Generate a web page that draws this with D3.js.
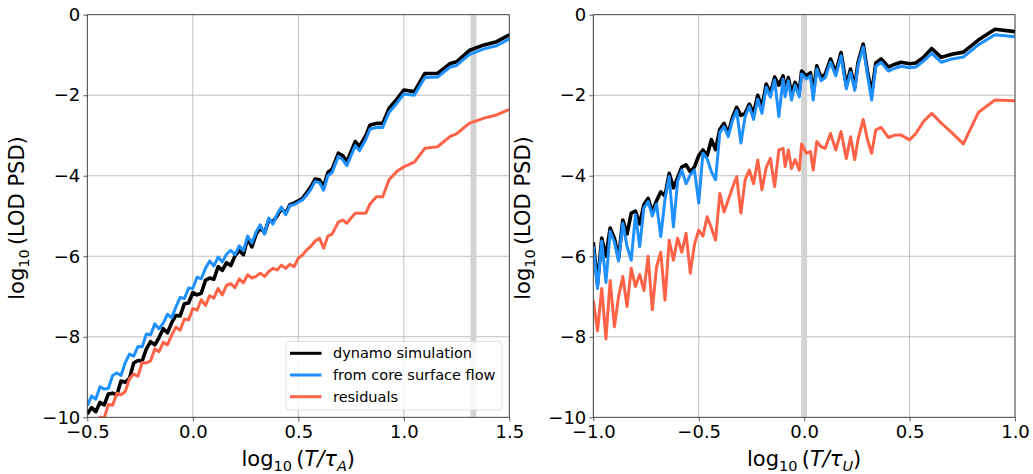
<!DOCTYPE html>
<html>
<head>
<meta charset="utf-8">
<script src="https://cdn.jsdelivr.net/npm/d3@7"></script>
<style>
  body { margin: 0; background: #fff; }
  svg { font-family: "DejaVu Sans", sans-serif; }
</style>
</head>
<body>
<div id="chart"></div>
<script>
// ---- data ----
var yTicks = [0, -2, -4, -6, -8, -10];
var leftTicks = [-0.5, 0.0, 0.5, 1.0, 1.5];
var rightTicks = [-1.0, -0.5, 0.0, 0.5, 1.0];
var leftBand = 1.33, rightBand = 0.0;
var seriesNames = ["dynamo simulation", "from core surface flow", "residuals"];
var seriesColors = ["#000000", "#1e90ff", "#ff6347"];

var leftX = [-0.50,-0.48,-0.46,-0.44,-0.42,-0.40,-0.38,-0.36,-0.34,-0.32,-0.30,-0.28,-0.26,-0.24,-0.22,-0.20,
  -0.18,-0.16,-0.14,-0.12,-0.10,-0.08,-0.06,-0.04,-0.02,0.00,0.02,0.04,0.06,0.08,0.10,0.12,0.14,0.16,0.18,0.20,
  0.22,0.24,0.26,0.28,
  0.30,0.32,0.34,0.36,0.38,0.40,0.42,0.44,0.46,0.48,0.50,0.52,0.54,0.56,0.58,0.60,0.62,0.64,0.66,0.69,0.71,
  0.73,0.75,0.77,0.79,0.82,0.84,0.87,0.90,0.93,0.97,1.00,1.05,1.10,1.16,1.22,1.25,1.31,1.38,1.44,1.50];
var leftDynamo = [-9.92,-9.76,-9.86,-9.63,-9.69,-9.42,-9.4,-9.44,-9.1,-9.13,-9.03,-8.65,-8.59,-8.6,-8.3,-8.12,
  -8.2,-8.02,-7.8,-7.9,-7.65,-7.47,-7.48,-7.18,-7.16,-6.9,-6.96,-6.92,-6.6,-6.54,-6.57,-6.26,-6.35,-6.16,-6.23,-5.99,
  -5.86,-5.96,-5.55,-5.77,
  -5.45,-5.3,-5.42,-5.1,-5.14,-5.0,-4.81,-4.93,-4.72,-4.68,-4.62,-4.56,-4.42,-4.27,-4.08,-4.1,-4.27,-3.92,-3.84,-3.44,-3.5,
  -3.65,-3.4,-3.15,-3.28,-3.0,-2.74,-2.7,-2.7,-2.33,-2.08,-1.87,-1.91,-1.46,-1.46,-1.21,-1.17,-0.89,-0.75,-0.67,-0.5];
var leftFlow = [-9.72,-9.47,-9.55,-9.24,-9.3,-9.28,-8.96,-8.9,-8.96,-8.64,-8.43,-8.48,-8.24,-8.25,-7.93,-7.95,
  -7.68,-7.8,-7.66,-7.44,-7.53,-7.26,-7.02,-7.05,-6.79,-6.8,-6.52,-6.56,-6.3,-6.12,-6.24,-6.02,-6.14,-5.95,-5.85,-5.96,
  -5.74,-5.86,-5.5,-5.67,
  -5.4,-5.22,-5.45,-5.05,-5.2,-4.95,-4.78,-4.97,-4.74,-4.72,-4.66,-4.6,-4.48,-4.33,-4.14,-4.17,-4.36,-4.0,-3.92,-3.52,-3.6,
  -3.75,-3.5,-3.25,-3.38,-3.1,-2.84,-2.8,-2.8,-2.43,-2.18,-1.97,-2.0,-1.56,-1.55,-1.3,-1.26,-0.99,-0.85,-0.77,-0.6];
var leftResid = [-10.45,-10.4,-10.1,-10.0,-10.02,-9.68,-9.7,-9.4,-9.44,-9.36,-9.04,-8.93,-8.98,-8.64,-8.65,-8.6,
  -8.3,-8.37,-8.14,-8.2,-7.96,-7.76,-7.84,-7.56,-7.58,-7.3,-7.34,-7.08,-7.22,-6.98,-7.04,-6.8,-6.96,-6.72,-6.68,-6.78,
  -6.56,-6.66,-6.46,-6.54,
  -6.5,-6.42,-6.5,-6.38,-6.3,-6.34,-6.22,-6.3,-6.2,-6.26,-6.05,-5.97,-5.84,-5.75,-5.62,-5.55,-5.8,-5.5,-5.45,-5.15,-5.1,
  -5.18,-5.05,-4.93,-4.93,-4.93,-4.7,-4.52,-4.52,-4.1,-3.88,-3.78,-3.66,-3.32,-3.28,-3.02,-2.96,-2.7,-2.57,-2.49,-2.35];

var rightX = [-1.00,-0.98,-0.96,-0.94,-0.92,-0.90,-0.88,-0.86,-0.84,-0.82,-0.80,-0.78,-0.76,-0.74,-0.72,-0.70,
  -0.68,-0.66,-0.64,-0.62,-0.60,-0.58,-0.56,-0.54,-0.52,-0.50,-0.48,-0.46,-0.44,-0.42,-0.40,-0.38,-0.36,-0.34,
  -0.32,-0.30,-0.28,-0.26,-0.24,-0.22,-0.20,-0.18,-0.16,-0.14,-0.12,
  -0.10,-0.09,-0.075,-0.06,-0.043,-0.023,-0.012,0.01,0.03,0.043,0.06,0.08,0.10,0.125,0.15,0.175,0.20,0.22,0.24,
  0.255,0.28,0.30,0.32,0.34,0.365,0.40,0.43,0.46,0.50,0.53,0.565,0.605,0.65,0.70,0.755,0.826,0.905,1.0];
var rightDynamo = [-5.65,-6.7,-5.55,-6.0,-5.3,-5.55,-6.05,-5.1,-5.45,-4.93,-4.88,-5.2,-4.72,-4.56,-4.9,-4.62,
  -4.4,-4.5,-3.94,-4.3,-4.05,-3.78,-3.73,-3.9,-3.78,-3.5,-3.36,-3.5,-3.1,-3.35,-2.85,-2.7,-2.95,-2.55,
  -2.3,-2.5,-2.45,-2.22,-2.45,-2.0,-2.3,-1.72,-1.95,-1.55,-1.75,
  -1.52,-1.9,-1.56,-1.95,-1.68,-1.9,-1.4,-1.52,-1.44,-1.95,-1.27,-1.56,-1.48,-1.1,-1.44,-0.94,-1.76,-1.35,-1.8,
  -1.2,-0.73,-1.4,-1.95,-1.2,-1.1,-1.3,-1.23,-1.18,-1.22,-1.2,-1.06,-0.84,-1.06,-0.98,-0.93,-0.63,-0.36,-0.42];
var rightFlow = [-5.75,-6.8,-5.62,-6.65,-5.38,-5.65,-6.12,-5.18,-5.75,-6.1,-4.96,-5.76,-4.8,-4.64,-5.0,-4.7,
  -5.51,-4.58,-4.02,-5.27,-4.13,-3.86,-4.2,-3.98,-3.86,-4.68,-3.44,-3.58,-3.9,-4.1,-2.93,-2.78,-3.03,-2.63,
  -2.38,-3.19,-2.53,-2.28,-2.6,-2.1,-2.45,-1.8,-2.05,-1.62,-2.53,
  -1.6,-2.04,-1.64,-2.12,-1.75,-2.04,-1.47,-1.6,-1.52,-2.12,-1.35,-1.64,-1.56,-1.18,-1.52,-1.02,-1.84,-1.43,-1.88,
  -1.27,-0.8,-1.48,-2.12,-1.28,-1.18,-1.4,-1.33,-1.28,-1.32,-1.3,-1.16,-0.96,-1.18,-1.1,-1.05,-0.75,-0.5,-0.55];
var rightResid = [-7.1,-7.85,-6.8,-8.05,-6.6,-7.75,-7.0,-6.5,-7.25,-6.3,-6.75,-6.45,-6.85,-6.0,-7.33,-6.26,
  -5.9,-7.09,-5.6,-6.1,-5.55,-5.9,-5.43,-6.42,-5.7,-5.35,-5.5,-5.02,-5.3,-5.6,-4.44,-4.9,-4.6,-4.3,
  -4.02,-4.93,-4.1,-3.86,-4.2,-3.61,-4.35,-3.8,-3.57,-4.27,-3.36,
  -3.32,-3.77,-3.36,-3.82,-3.6,-3.86,-3.21,-3.44,-3.4,-3.86,-3.15,-3.28,-3.32,-2.95,-3.36,-2.9,-3.57,-3.03,-3.6,
  -3.11,-2.6,-3.1,-3.44,-2.86,-2.8,-3.05,-2.99,-2.99,-3.11,-2.95,-2.66,-2.45,-2.69,-2.93,-3.21,-2.43,-2.12,-2.14];

// ---- layout ----
var width = 1033, height = 474;
var yTop = 14.7, yBottom = 417.3;

var svg = d3.select("#chart").append("svg")
    .attr("width", width)
    .attr("height", height);

var y = d3.scaleLinear().domain([-10, 0]).range([yBottom, yTop]);

function panel(id, x0, x1, domain, xs, ys, band, ticks, sub, legend) {
  var x = d3.scaleLinear().domain(domain).range([x0, x1]);
  var g = svg.append("g");

  g.append("clipPath").attr("id", "clip" + id)
    .append("rect").attr("x", x0).attr("y", yTop).attr("width", x1 - x0).attr("height", yBottom - yTop);

  // grid
  g.selectAll(".vg").data(ticks).enter().append("line")
    .attr("x1", d => x(d)).attr("x2", d => x(d)).attr("y1", yTop).attr("y2", yBottom)
    .attr("stroke", "#b0b0b0").attr("stroke-width", 0.8);
  g.selectAll(".hg").data(yTicks).enter().append("line")
    .attr("x1", x0).attr("x2", x1).attr("y1", d => y(d)).attr("y2", d => y(d))
    .attr("stroke", "#b0b0b0").attr("stroke-width", 0.8);

  // gray band
  g.append("line")
    .attr("x1", x(band)).attr("x2", x(band)).attr("y1", yTop).attr("y2", yBottom)
    .attr("stroke", "#d3d3d3").attr("stroke-width", 6);

  var line = d3.line().x((d, i) => x(xs[i])).y(d => y(d));
  var widths = [3.6, 3, 3];
  var lg = g.append("g").attr("clip-path", "url(#clip" + id + ")");
  ys.forEach(function(s, k) {
    lg.append("path").datum(s)
      .attr("d", line)
      .attr("fill", "none")
      .attr("stroke", seriesColors[k])
      .attr("stroke-width", widths[k])
      .attr("stroke-linejoin", "round");
  });

  // axes
  var xa = g.append("g").attr("transform", "translate(0," + yBottom + ")")
    .call(d3.axisBottom(x).tickValues(ticks).tickFormat(d3.format(".1f")).tickSizeOuter(0).tickSize(4).tickPadding(4));
  var ya = g.append("g").attr("transform", "translate(" + x0 + ",0)")
    .call(d3.axisLeft(y).tickValues(yTicks).tickFormat(d3.format("d")).tickSizeOuter(0).tickSize(4).tickPadding(3));
  [xa, ya].forEach(function(a) {
    a.select(".domain").remove();
    a.selectAll("text").attr("font-size", 18).attr("fill", "#000").attr("font-family", "DejaVu Sans");
    a.selectAll("line").attr("stroke", "#333").attr("stroke-width", 0.8);
  });

  // frame
  g.append("rect").attr("x", x0).attr("y", yTop).attr("width", x1 - x0).attr("height", yBottom - yTop)
    .attr("fill", "none").attr("stroke", "#333").attr("stroke-width", 0.8);

  // x label
  var xl = g.append("text")
    .attr("x", (x0 + x1) / 2).attr("y", 466)
    .attr("text-anchor", "middle").attr("font-size", 21);
  xl.append("tspan").text("log");
  xl.append("tspan").attr("font-size", 14.5).attr("dy", 4.5).text("10");
  xl.append("tspan").attr("dy", -4.5).text("\u2009(");
  xl.append("tspan").attr("font-style", "italic").text("T/\u03c4");
  xl.append("tspan").attr("font-style", "italic").attr("font-size", 14.5).attr("dy", 4.5).text(sub);
  xl.append("tspan").attr("dy", -4.5).text(")");

  // y label
  var yl = g.append("text")
    .attr("transform", "translate(" + (x0 - 63) + "," + 218 + ") rotate(-90)")
    .attr("text-anchor", "middle").attr("font-size", 21);
  yl.append("tspan").text("log");
  yl.append("tspan").attr("font-size", 14.5).attr("dy", 4.5).text("10");
  yl.append("tspan").attr("dy", -4.5).text("\u2009(LOD PSD)");

  if (legend) {
    var L = g.append("g");
    L.append("rect").attr("x", 286).attr("y", 341.5).attr("width", 216).attr("height", 68.5)
      .attr("rx", 3).attr("fill", "#fff").attr("fill-opacity", 0.8)
      .attr("stroke", "#d9d9d9").attr("stroke-width", 0.8);
    seriesNames.forEach(function(n, k) {
      var yy = 353.3 + k * 21.7;
      L.append("line").attr("x1", 290).attr("x2", 321.5).attr("y1", yy).attr("y2", yy)
        .attr("stroke", seriesColors[k]).attr("stroke-width", 3);
      L.append("text").attr("x", 333).attr("y", yy + 5).attr("font-size", 14.5).text(n);
    });
  }
}

panel("L", 87.3, 509.3, [-0.5, 1.5], leftX, [leftDynamo, leftFlow, leftResid], leftBand, leftTicks, "A", true);
panel("R", 593.3, 1015, [-1, 1], rightX, [rightDynamo, rightFlow, rightResid], rightBand, rightTicks, "U", false);
</script>
</body>
</html>
